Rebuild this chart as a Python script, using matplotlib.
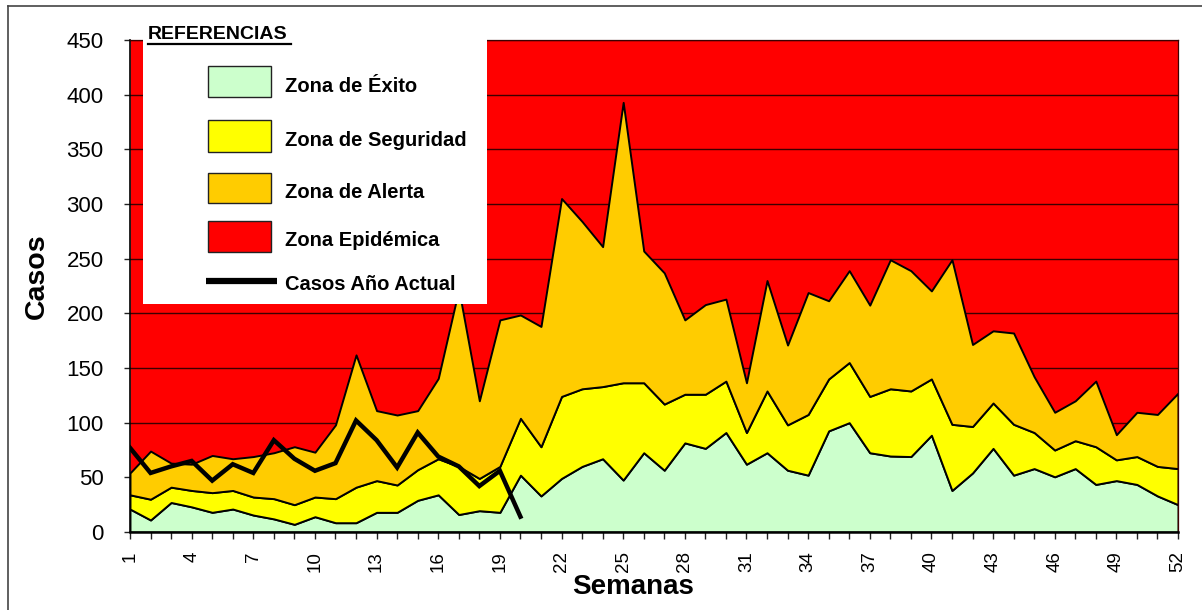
import matplotlib
matplotlib.use("Agg")
import matplotlib.pyplot as plt
from matplotlib.patches import Rectangle
from matplotlib.lines import Line2D

plt.rcParams['font.family'] = ['Liberation Sans', 'DejaVu Sans']

# canal endémico por semana epidemiológica
semanas = list(range(1, 53))
exito = [21, 11, 27, 23, 18, 21, 15.5, 12, 7, 14, 8.5, 8.5, 18, 18, 29, 34, 16, 19.5, 18, 52,
         33, 49, 60, 67, 47.5, 72.5, 56.5, 81.5, 76.5, 91, 62, 72.5, 56.5, 52, 92.5, 100, 72.5,
         69.5, 69, 88.5, 38, 54, 76.5, 52, 58, 50.5, 58, 43.5, 47, 43.5, 33, 25]
seguridad = [34, 30, 41, 38, 36, 38, 32, 30.5, 25, 32, 30.5, 41, 47, 43, 57, 67, 60, 49, 60, 104,
             78, 124, 131, 133, 136.5, 136.5, 117, 126, 126, 138, 91, 129, 98, 107.5, 140, 155, 124,
             131, 129, 140, 98.5, 96.5, 118, 98.5, 91, 75, 83.5, 78, 66, 69, 60, 58]
alerta = [54, 74, 63, 62, 70, 67, 69, 72.5, 78, 73, 98, 162, 111, 107, 111, 140.5, 222, 120, 194,
          198.5, 188, 305, 284, 261, 393, 257, 237, 194, 208, 213, 136.5, 230, 171, 219, 211.5, 239,
          207.5, 249, 239, 220.5, 249, 171.5, 184, 182, 142, 109.5, 120, 138, 89, 109.5, 107.5, 127]
tope = 450

semanas_actual = semanas[:20]
casos_actual = [77, 54, 60, 65, 47, 62, 54, 84, 67, 56, 63, 102, 84, 59, 91, 69, 60, 42, 56, 14]

C_EXITO = '#CCFFCC'
C_SEG = '#FFFF00'
C_ALERTA = '#FFCC00'
C_EPI = '#FF0000'

W, H = 1202, 610
fig = plt.figure(figsize=(W / 100, H / 100), dpi=100)


def fx(x):
    return x / W


def fy(y):
    return 1 - y / H


ax = fig.add_axes([fx(130), fy(532), fx(1178) - fx(130), fy(40) - fy(532)])

ax.fill_between(semanas, alerta, tope, color=C_EPI, lw=0, zorder=0.2)
ax.fill_between(semanas, 0, exito, facecolor=C_EXITO, edgecolor='black', lw=1.4, zorder=1)
ax.fill_between(semanas, exito, seguridad, facecolor=C_SEG, edgecolor='black', lw=1.4, zorder=1.1)
ax.fill_between(semanas, seguridad, alerta, facecolor=C_ALERTA, edgecolor='black', lw=1.4, zorder=1.2)
ax.plot(semanas_actual, casos_actual, color='black', lw=3.2, zorder=3, solid_joinstyle='miter')

ax.set_xlim(1, 52)
ax.set_ylim(0, 450)
ax.set_yticks(range(0, 451, 50))
ax.set_xticks(semanas)
ax.set_xticklabels([str(s) if (s - 1) % 3 == 0 else '' for s in semanas], rotation=90)
ax.set_axisbelow(True)
ax.grid(axis='y', color='#3c0000', lw=1.0)
ax.grid(axis='x', visible=False)
ax.tick_params(axis='x', direction='out', length=5, width=1, pad=9, labelsize=13.5, color='#222222')
ax.tick_params(axis='y', direction='out', length=4, width=1, pad=15, labelsize=16, color='#222222')

for s in ['left', 'bottom']:
    ax.spines[s].set_color('black')
ax.spines['left'].set_linewidth(1.2)
ax.spines['bottom'].set_linewidth(1.8)
for s in ['top', 'right']:
    ax.spines[s].set_color('#3c0000')
    ax.spines[s].set_linewidth(0.9)

fig.text(fx(37), fy(276), 'Casos', rotation=90, ha='center', va='center',
         fontsize=20.5, fontweight='bold')
fig.text(fx(633), fy(594), 'Semanas', ha='center', va='baseline',
         fontsize=20, fontweight='bold')

# marco exterior
fig.add_artist(Line2D([fx(8), fx(8)], [fy(6), fy(612)], color='#444444', lw=1.2))
fig.add_artist(Line2D([fx(8), fx(1204)], [fy(6), fy(6)], color='#444444', lw=1.2))

# cuadro de referencias
fig.add_artist(Rectangle((fx(143), fy(304)), fx(487) - fx(143), fy(16) - fy(304),
                         transform=fig.transFigure, facecolor='white', edgecolor='none', zorder=5))
fig.text(fx(148), fy(39), 'REFERENCIAS', ha='left', va='baseline', fontsize=14,
         fontweight='bold', zorder=6)
fig.add_artist(Line2D([fx(148), fx(291)], [fy(43.5), fy(43.5)], color='black', lw=1.6, zorder=6))

entradas = [
    (C_EXITO, 'Zona de Éxito', 66, 97, 91.5),
    (C_SEG, 'Zona de Seguridad', 120, 152, 145.5),
    (C_ALERTA, 'Zona de Alerta', 173, 203, 197.5),
    (C_EPI, 'Zona Epidémica', 221, 252, 246),
]
for color, texto, y0, y1, yb in entradas:
    fig.add_artist(Rectangle((fx(208), fy(y1)), fx(271) - fx(208), fy(y0) - fy(y1),
                             transform=fig.transFigure, facecolor=color,
                             edgecolor='#222222', lw=1.0, zorder=6))
    fig.text(fx(285), fy(yb), texto, ha='left', va='baseline', fontsize=14.5,
             fontweight='bold', zorder=6)

fig.add_artist(Line2D([fx(206), fx(277)], [fy(281), fy(281)], color='black', lw=4.5, zorder=6,
                      solid_capstyle='butt'))
fig.text(fx(285), fy(289.5), 'Casos Año Actual', ha='left', va='baseline', fontsize=14.5,
         fontweight='bold', zorder=6)

fig.savefig('out.png', dpi=100)
